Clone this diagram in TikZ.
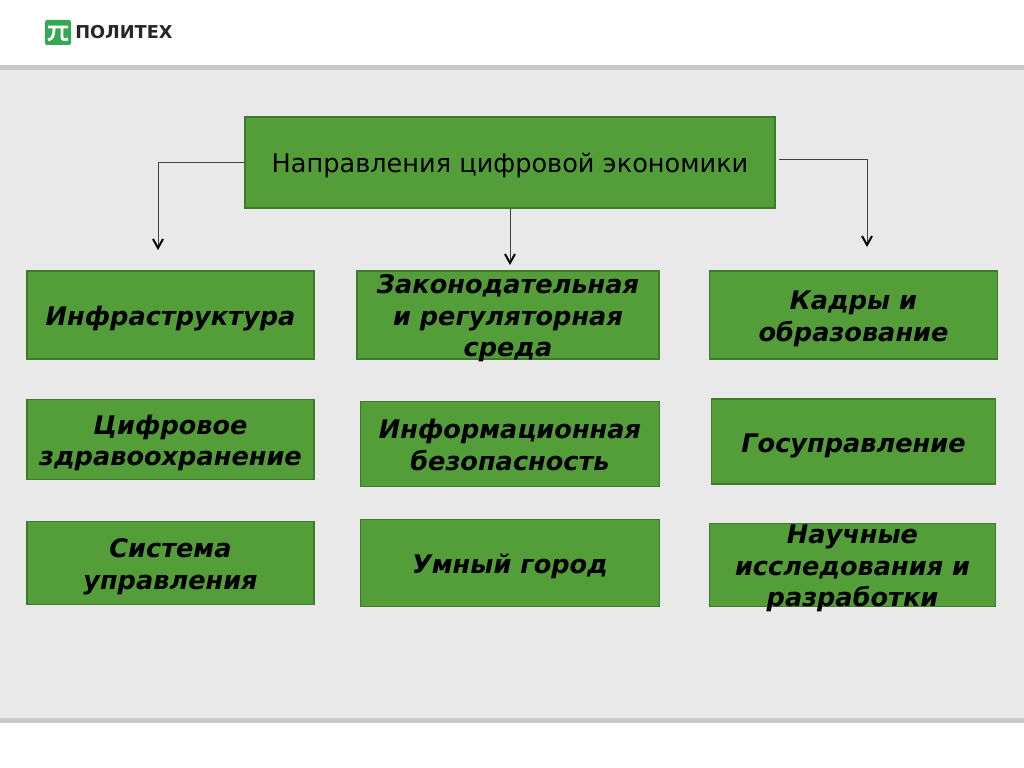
\documentclass[tikz,border=0pt]{standalone}
\usepackage{fontspec}
\setmainfont{DejaVu Sans}
\begin{document}
\tikzset{
  greenbox/.style={draw=boxedge,fill=boxfill,line width=0.9pt,inner sep=0pt},
  boxtext/.style={inner sep=0pt,align=center,text=black,font=\fontsize{18.2}{22.4}\selectfont\bfseries\itshape,
    execute at begin node={\rule{0pt}{20pt}},execute at end node={\rule[-4.6pt]{0pt}{4.6pt}}},
  headtext/.style={boxtext,font=\fontsize{18.2}{22.4}\selectfont,yshift=0.7pt},
  manyline/.style={boxtext,yshift=-3pt},
  pointer/.style={draw=black!75,line width=0.7pt},
  tip/.style={draw=black,line width=1.4pt}
}
\definecolor{boxfill}{HTML}{549E39}
\definecolor{boxedge}{HTML}{3E7A2A}
\definecolor{pagegray}{HTML}{E9E9E9}
\definecolor{bandgray}{HTML}{C8C8C8}
\definecolor{logogreen}{HTML}{35A853}
\begin{tikzpicture}[x=0.025cm,y=-0.025cm]
\useasboundingbox (0,0) rectangle (1024,768);
% Page
\fill[white] (0,0) rectangle (1024,768);
\fill[pagegray] (0,66) rectangle (1024,723);
\fill[bandgray] (0,65) rectangle (1024,70);
\fill[bandgray] (0,718) rectangle (1024,723);
% Logo
\fill[logogreen,rounded corners=1.5pt] (45,20) rectangle (71,45);
\draw[white,line width=2pt] (48,27) -- (68,27) (54,27) .. controls (54,35) and (53,39) .. (48,40) (62,27) -- (62,37) .. controls (62,40) and (65,40) .. (68,39);
\node[anchor=west,inner sep=0pt,text=black!85,font=\fontsize{12.6}{14}\selectfont\bfseries] (logotext) at (75,32) {ПОЛИТЕХ};
% Head
\node[greenbox,minimum width=530*0.025cm,minimum height=91*0.025cm,label={[headtext]center:Направления цифровой экономики}] (head) at (510,162.5) {};
% First row
\node[greenbox,minimum width=287*0.025cm,minimum height=88*0.025cm,label={[boxtext]center:Инфраструктура}] (infra) at (170.5,315) {};
\node[greenbox,minimum width=302*0.025cm,minimum height=88*0.025cm,label={[manyline]center:{Законодательная\\и регуляторная\\среда}}] (law) at (508,315) {};
\node[greenbox,minimum width=288*0.025cm,minimum height=88*0.025cm,label={[manyline]center:{Кадры и\\образование}}] (staff) at (853.5,315) {};
% Second row
\node[greenbox,minimum width=287*0.025cm,minimum height=80*0.025cm,label={[manyline]center:{Цифровое\\здравоохранение}}] (health) at (170.5,439.5) {};
\node[greenbox,minimum width=299*0.025cm,minimum height=85*0.025cm,label={[manyline]center:{Информационная\\безопасность}}] (security) at (510,444) {};
\node[greenbox,minimum width=284*0.025cm,minimum height=85*0.025cm,label={[boxtext]center:Госуправление}] (gov) at (853.5,441.5) {};
% Third row
\node[greenbox,minimum width=287*0.025cm,minimum height=83*0.025cm,label={[manyline]center:{Система\\управления}}] (control) at (170.5,563) {};
\node[greenbox,minimum width=299*0.025cm,minimum height=87*0.025cm,label={[boxtext]center:Умный город}] (city) at (510,563) {};
\node[greenbox,minimum width=286*0.025cm,minimum height=83*0.025cm,label={[manyline]center:{Научные\\исследования и\\разработки}}] (science) at (852.5,565) {};
% Connectors
\coordinate (leftend) at (158,248);
\coordinate (midend) at (510,263);
\coordinate (rightstart) at (779,159);
\coordinate (rightend) at (867,245);
\draw[pointer] (head.west |- 0,162) -- (leftend |- 0,162) -- (leftend);
\draw[pointer] (head.south -| midend) -- (midend);
\draw[pointer] (rightstart) -- (rightend |- rightstart) -- (rightend);
% Tips
\foreach \p in {leftend,midend,rightend}{
\draw[tip] (\p) ++(-5,-9) -- (\p) --++(5,-9);
}
\end{tikzpicture}
\end{document}
